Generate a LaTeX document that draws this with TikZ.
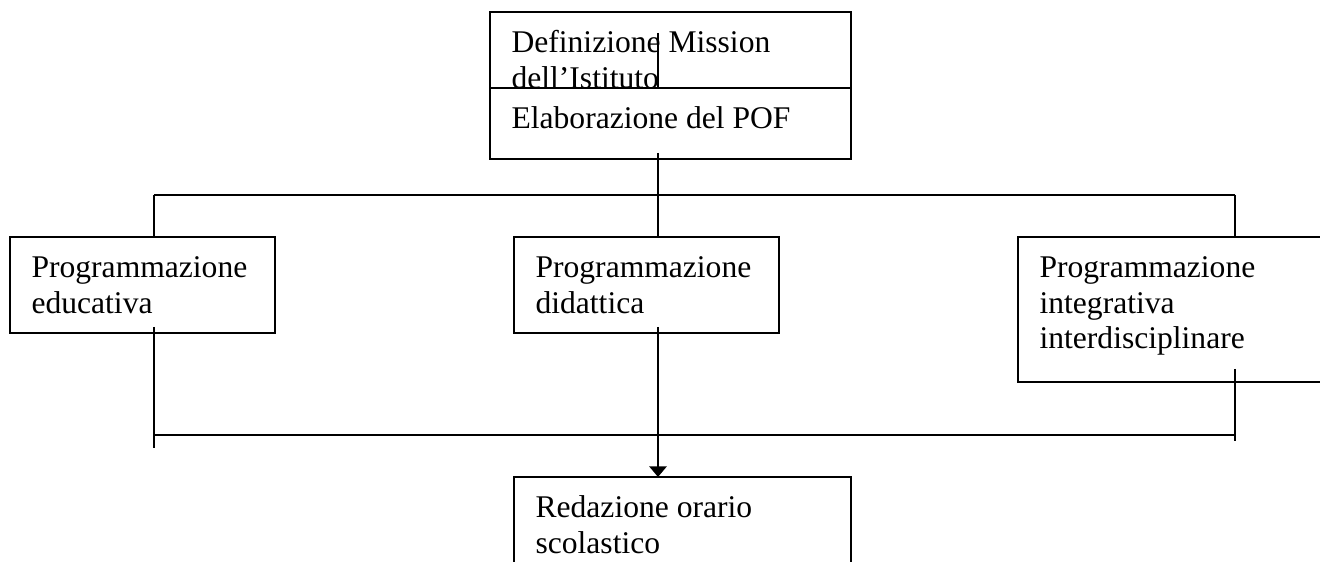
\documentclass[tikz,border=0pt]{standalone}
\usepackage{fontspec}
\setmainfont{Liberation Serif}
\usetikzlibrary{arrows.meta,positioning,calc}
\newcommand{\fstline}{\rule{0pt}{15.4pt}}
\newcommand{\lstline}[1]{\rule[-#1]{0pt}{#1}}
\begin{document}
\begin{tikzpicture}[x=0.38pt, y=-0.38pt, >={Triangle[width=6.5pt,length=4pt]}, line width=0.75pt,
  every node/.style={font={\fontsize{12pt}{13.5pt}\selectfont\hyphenpenalty10000 }},
  box/.style={draw, fill=white, anchor=north west, align=flush left, inner xsep=8.2pt, inner ysep=0pt, outer sep=0pt}]
\useasboundingbox (0,0) rectangle (1320,562);
\clip (0,0) rectangle (1320,562);
% top: mission and POF
\node (mission) [box, text width=120.8pt] at (490,12) {\fstline Definizione Mission\\dell’Istituto\lstline{7.2pt}};
\coordinate (t1) at (658,33);
\draw (t1) -- (t1 |- mission.south);
\node (pof) [box, text width=120.8pt] at (490,88) {\fstline Elaborazione del POF\lstline{11.6pt}};
% three programmes
\node (edu) [box, text width=84.3pt] at (10,237) {\fstline Programmazione\\educativa\lstline{7.6pt}};
\node (did) [box, text width=84.3pt] at (514,237) {\fstline Programmazione\\didattica\lstline{7.6pt}};
\node (integr) [box, text width=105.2pt] at (1018,237) {\fstline Programmazione\\integrativa\\interdisciplinare\lstline{12.7pt}};
\node (orario) [box, text width=111.7pt] at (514,477) {\fstline Redazione orario\\scolastico\lstline{10pt}};
% upper bus
\coordinate (t2) at (658,153);
\coordinate (busL) at (154,195);
\coordinate (busR) at (1235,195);
\draw (t2) -- (t2 |- busL);
\draw (busL) -- (busR);
\draw (busL) -- (busL |- edu.north);
\draw (t2 |- busL) -- (t2 |- did.north);
\draw (busR) -- (busR |- integr.north);
% lower bus
\coordinate (eduOut) at (154,327);
\coordinate (eduEnd) at (154,448);
\coordinate (didOut) at (658,327);
\coordinate (intOut) at (1235,369);
\coordinate (intEnd) at (1235,441);
\coordinate (lowL) at (154,435);
\coordinate (lowR) at (1235,435);
\draw (eduOut) -- (eduEnd);
\draw (intOut) -- (intEnd);
\draw (lowL) -- (lowR);
\draw[->] (didOut) -- (didOut |- orario.north);
\end{tikzpicture}
\end{document}
